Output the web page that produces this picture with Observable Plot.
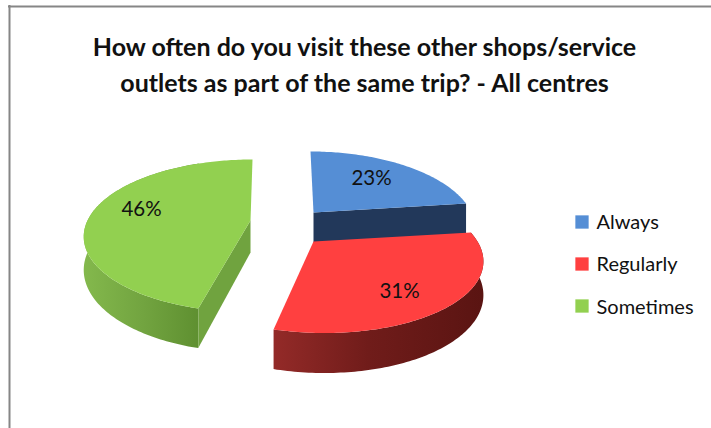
<!DOCTYPE html>
<html>
<head>
<meta charset="utf-8">
<script src="https://cdn.jsdelivr.net/npm/d3@7"></script>
<script src="https://cdn.jsdelivr.net/npm/@observablehq/plot@0.6"></script>
<style>
  html, body { margin: 0; padding: 0; background: #fff; overflow: hidden; }
  svg { display: block; font-family: Lato, "Open Sans", sans-serif; }
</style>
</head>
<body>
<div id="chart"></div>
<script>
// Survey answers
const categories = ["Always", "Regularly", "Sometimes"];
const shares = [23, 31, 46];
const titleLines = [
  "How often do you visit these other shops/service",
  "outlets as part of the same trip? - All centres"
];
const topColors = ["#558ed5", "#ff4040", "#92d050"];

// Placement of each exploded slice and of its label on the page
const placement = [
  {cx: 313, cy: 212, a: 158, lean: 3, labelX: 371, labelY: 178},
  {cx: 313, cy: 241, a: 164, lean: 11, labelX: 399, labelY: 291},
  {cx: 250, cy: 220, a: 163, lean: -2, labelX: 141, labelY: 209}
];
const B = 73.2, P = 0.2, DEPTH = 32;
const W = 711, H = 428;

// Pie plane seen in perspective: theta is clockwise from twelve o'clock
function project(p, theta, r = 1) {
  const u = r * Math.sin(theta), v = -r * Math.cos(theta);
  const d = 1 - P * v;
  return {x: p.cx + p.a * u / d + p.lean * v, y: p.cy + B * v / d, d};
}
const drop = (pt) => ({x: pt.x, y: pt.y + DEPTH / pt.d});

const arcs = [];
let acc = 0;
const total = d3.sum(shares);
shares.forEach((s, i) => {
  const start = acc / total * 2 * Math.PI;
  acc += s;
  const end = acc / total * 2 * Math.PI;
  const n = Math.ceil((end - start) * 180 / Math.PI);
  const rim = d3.range(n + 1).map((k) => project(placement[i], start + (end - start) * k / n));
  arcs.push({rim, apex: project(placement[i], 0, 0), first: rim[0], last: rim[n]});
});

const shape = (pts, fill) => Plot.line(pts, {x: "x", y: "y", fill, stroke: "none", curve: "linear"});
const outerWall = ({rim}, from, to, fill) => {
  const part = rim.filter((pt) => pt.x >= from && pt.x <= to);
  return shape([...part, ...part.slice().reverse().map(drop)], fill);
};
const radialWall = (a, b, fill) => shape([a, b, drop(b), drop(a)], fill);
const topFace = ({rim, apex}, fill) => shape([apex, ...rim, apex], fill);

// Horizontal shading of the curved walls
function gradients() {
  const ns = "http://www.w3.org/2000/svg";
  const defs = document.createElementNS(ns, "defs");
  const add = (id, x1, x2, stops) => {
    const g = document.createElementNS(ns, "linearGradient");
    g.setAttribute("id", id);
    g.setAttribute("gradientUnits", "userSpaceOnUse");
    g.setAttribute("x1", x1); g.setAttribute("x2", x2);
    g.setAttribute("y1", 0); g.setAttribute("y2", 0);
    stops.forEach(([o, c]) => {
      const s = document.createElementNS(ns, "stop");
      s.setAttribute("offset", o); s.setAttribute("stop-color", c);
      g.appendChild(s);
    });
    defs.appendChild(g);
  };
  add("wallGreen", 85, 200, [[0, "#83b84c"], [0.5, "#72a440"], [1, "#5e8f30"]]);
  add("wallRed", 274, 483, [[0, "#932a28"], [0.45, "#701c1a"], [1, "#5a1412"]]);
  return defs;
}

const [blue, red, green] = arcs;

const chart = Plot.plot({
  width: W,
  height: H,
  margin: 0,
  x: {domain: [0, W], range: [0, W], axis: null},
  y: {domain: [0, H], range: [0, H], axis: null},
  marks: [
    gradients,
    Plot.ruleX([9], {y1: 5, y2: H, stroke: "#868686", strokeWidth: 2}),
    Plot.ruleY([6], {x1: 8, x2: W, stroke: "#868686", strokeWidth: 2}),

    // Sometimes
    outerWall(green, 0, 200, "url(#wallGreen)"),
    radialWall(green.first, green.apex, "#70a33f"),
    topFace(green, topColors[2]),

    // Always
    radialWall(blue.apex, blue.last, "#22385a"),
    topFace(blue, topColors[0]),

    // Regularly
    outerWall(red, 0, W, "url(#wallRed)"),
    topFace(red, topColors[1]),

    // Slice labels
    Plot.text(shares, {
      x: (d, i) => placement[i].labelX,
      y: (d, i) => placement[i].labelY,
      text: (d) => `${d}%`,
      fontSize: 20.5,
      fill: "#111"
    }),

    // Title
    Plot.text(titleLines, {
      x: () => 364,
      y: (d, i) => 47 + 36 * i,
      text: (d) => d,
      fontSize: 25,
      fontWeight: 700,
      fill: "#111"
    }),

    // Legend
    Plot.dot(categories, {
      x: () => 581.5,
      y: (d, i) => 221.5 + 42 * i,
      symbol: "square",
      r: 7.5,
      fill: (d, i) => topColors[i],
      stroke: "none"
    }),
    Plot.text(categories, {
      x: () => 596,
      y: (d, i) => 222 + 42.5 * i,
      text: (d) => d,
      textAnchor: "start",
      fontSize: 20,
      fill: "#111"
    })
  ]
});
document.getElementById("chart").appendChild(chart);
</script>
</body>
</html>
